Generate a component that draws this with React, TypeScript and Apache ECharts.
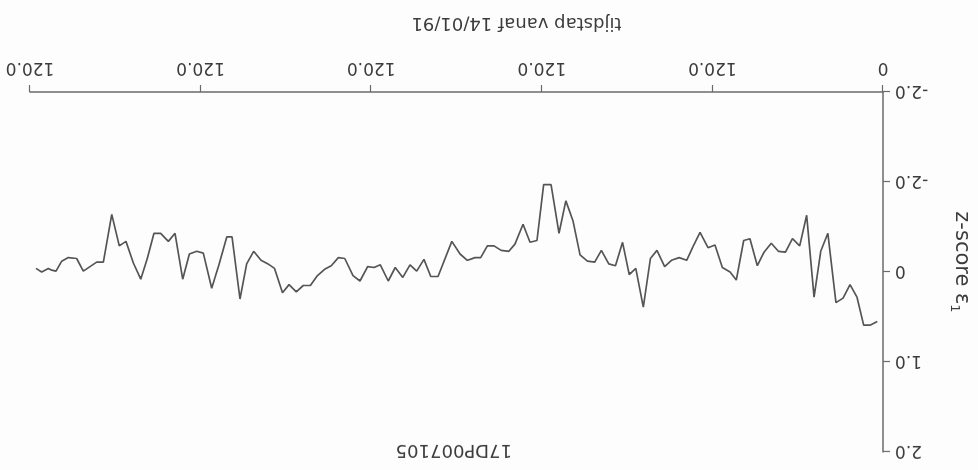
import React, { useEffect, useRef } from "react";
import * as echarts from "echarts";

// Tick labels as printed on the plot
const xTickLabels = ["0", "120.0", "120.0", "120.0", "120.0", "120.0"];
const yTickLabels = ["-2.0", "-2.0", "0", "1.0", "2.0"];

// Time step (days since 14/01/91)
const days = [
  4.0, 8.8, 13.6, 18.3, 23.2, 28.1, 33.1, 38.8, 43.8, 48.5,
  53.7, 58.6, 63.7, 68.6, 73.6, 78.6, 83.7, 88.4, 93.6, 98.0,
  103.2, 107.6, 113.0, 118.2, 123.1, 128.7, 133.4, 138.1, 143.4, 148.8,
  153.6, 159.0, 163.6, 168.6, 173.9, 178.5, 183.2, 188.2, 192.9, 198.1,
  202.8, 207.9, 213.1, 218.1, 223.1, 227.9, 233.5, 238.7, 243.4, 248.3,
  253.2, 258.9, 263.2, 268.6, 273.6, 278.3, 283.0, 287.0, 292.4, 297.5,
  303.3, 313.0, 318.1, 322.9, 328.0, 332.7, 337.8, 343.1, 348.0, 353.6,
  358.0, 362.5, 367.9, 372.8, 378.6, 383.1, 388.1, 392.8, 397.8, 402.8,
  407.8, 412.7, 417.8, 422.4, 428.0, 432.6, 437.5, 442.7, 447.6, 452.3,
  457.9, 461.6, 467.1, 472.2, 478.1, 482.7, 487.9, 492.6, 498.0, 502.7,
  508.1, 512.8, 517.5, 522.1, 527.3, 532.5, 537.2, 542.5, 548.4, 553.1,
  557.8, 562.5, 567.2, 573.1, 577.7, 581.7, 584.7, 587.1, 591.8, 595.8,
];

// Residual z-score per step
const zScores = [
  0.55, 0.59, 0.59, 0.28, 0.14, 0.29, 0.34, -0.43, -0.23, 0.28,
  -0.63, -0.29, -0.37, -0.22, -0.23, -0.32, -0.22, -0.07, -0.37, -0.35,
  0.09, 0.0, -0.05, -0.3, -0.27, -0.44, -0.29, -0.13, -0.16, -0.13,
  -0.06, -0.24, -0.15, 0.39, -0.04, 0.03, -0.33, -0.07, -0.09, -0.24,
  -0.11, -0.12, -0.19, -0.57, -0.79, -0.43, -0.97, -0.97, -0.35, -0.33,
  -0.53, -0.31, -0.23, -0.24, -0.29, -0.29, -0.16, -0.16, -0.13, -0.2,
  -0.34, 0.05, 0.05, -0.14, -0.01, -0.08, 0.06, -0.05, 0.1, -0.08,
  -0.05, -0.06, 0.1, 0.04, -0.15, -0.16, -0.07, -0.03, 0.04, 0.15,
  0.15, 0.22, 0.14, 0.23, -0.04, -0.09, -0.13, -0.23, -0.09, 0.3,
  -0.39, -0.39, -0.08, 0.18, -0.21, -0.23, -0.2, 0.08, -0.43, -0.34,
  -0.43, -0.43, -0.15, 0.08, -0.1, -0.34, -0.29, -0.64, -0.11, -0.11,
  -0.06, -0.01, -0.15, -0.16, -0.12, -0.01, -0.02, -0.04, 0.0, -0.04,
];

const FONT = "DejaVu Sans";
const INK = "#3c3c3c";
const AXIS = "#6a6a6a";

export default function App() {
  const ref = useRef<HTMLDivElement>(null);

  useEffect(() => {
    if (!ref.current) return;
    const chart = echarts.init(ref.current, undefined, { renderer: "svg" });
    const data = days.map((d, i) => [d, zScores[i]]);

    chart.setOption({
      animation: false,
      backgroundColor: "#fdfdfd",
      title: {
        text: "17DP007105",
        left: 466,
        top: 9,
        padding: 0,
        textStyle: { fontFamily: FONT, fontSize: 18, fontWeight: "normal", color: INK },
      },
      grid: {
        left: 95,
        right: 30,
        top: 18,
        bottom: 92,
        containLabel: false,
        outerBoundsMode: "none",
      },
      xAxis: {
        type: "value",
        min: 0,
        max: 600,
        interval: 120,
        name: "tijdstap vanaf 14/01/91",
        nameLocation: "middle",
        nameGap: 58,
        nameTextStyle: {
          fontFamily: FONT,
          fontSize: 18,
          color: INK,
          padding: [0, 120, 0, 0],
        },
        axisLine: { onZero: false, lineStyle: { color: AXIS, width: 1.5 } },
        axisTick: { length: 7, lineStyle: { color: AXIS, width: 1.2 } },
        axisLabel: {
          margin: 14,
          fontFamily: FONT,
          fontSize: 17,
          color: INK,
          formatter: (_v: number, i: number) => xTickLabels[i] ?? "",
        },
        splitLine: { show: false },
      },
      yAxis: {
        type: "value",
        min: -2,
        max: 2,
        interval: 1,
        name: "z-score ε{sub|1}",
        nameLocation: "middle",
        nameRotate: 90,
        nameGap: 66,
        nameTextStyle: {
          fontFamily: FONT,
          fontSize: 21,
          lineHeight: 28,
          color: INK,
          padding: [0, 20, 0, 0],
          rich: {
            sub: { fontFamily: FONT, fontSize: 13, lineHeight: 13, verticalAlign: "bottom", color: INK },
          },
        },
        axisLine: { show: true, onZero: false, lineStyle: { color: AXIS, width: 1.5 } },
        axisTick: { show: true, length: 7, lineStyle: { color: AXIS, width: 1.2 } },
        axisLabel: {
          margin: 12,
          fontFamily: FONT,
          fontSize: 17,
          color: INK,
          formatter: (_v: number, i: number) => yTickLabels[i] ?? "",
        },
        splitLine: { show: false },
      },
      series: [
        {
          type: "line",
          data,
          showSymbol: false,
          symbol: "none",
          lineStyle: { color: "#555555", width: 1.7 },
        },
      ],
    });

    return () => chart.dispose();
  }, []);

  // The sheet is printed upside down, so the whole chart is turned half a revolution.
  return (
    <div
      ref={ref}
      style={{
        position: "fixed",
        left: 0,
        top: 0,
        width: 978,
        height: 470,
        transform: "rotate(180deg)",
      }}
    />
  );
}
